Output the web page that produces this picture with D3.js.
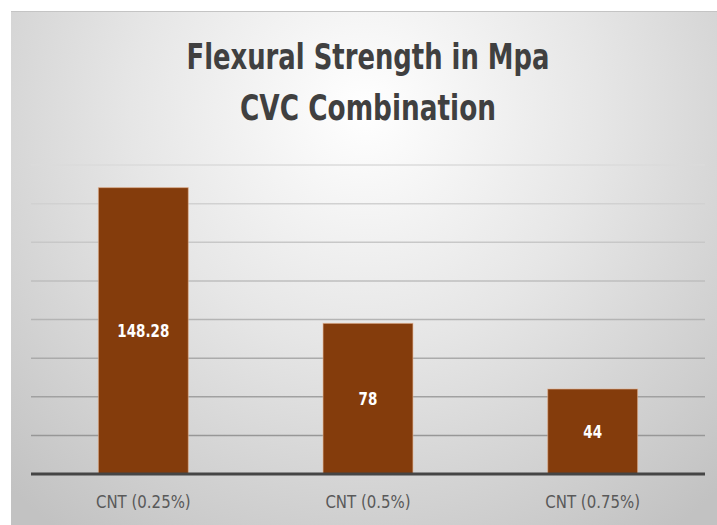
<!DOCTYPE html>
<html>
<head>
<meta charset="utf-8">
<script src="https://cdn.jsdelivr.net/npm/d3@7"></script>
<style>
  body { margin: 0; background: #ffffff; }
  svg { display: block; }
  .title { font-family: "DejaVu Sans", sans-serif; font-weight: bold; fill: #404040; }
  .catlabel { font-family: "DejaVu Sans", sans-serif; fill: #595959; }
  .vallabel { font-family: "DejaVu Sans", sans-serif; font-weight: bold; fill: #ffffff; }
</style>
</head>
<body>
<script>
// data
var categories = ["CNT (0.25%)", "CNT (0.5%)", "CNT (0.75%)"];
var values = [148.28, 78, 44];
var value_labels = ["148.28", "78", "44"];
var grid_ticks = [0, 20, 40, 60, 80, 100, 120, 140, 160];
var title_lines = ["Flexural Strength in Mpa", "CVC Combination"];

var width = 717, height = 525;

let svg = d3.select("body").append("svg")
    .attr("width", width)
    .attr("height", height);

let defs = svg.append("defs");

// background radial gradient
let bg = defs.append("radialGradient")
    .attr("id", "bggrad")
    .attr("gradientUnits", "userSpaceOnUse")
    .attr("cx", 365).attr("cy", 110)
    .attr("r", 520);
bg.append("stop").attr("offset", "0%").attr("stop-color", "#ffffff");
bg.append("stop").attr("offset", "45%").attr("stop-color", "#e6e6e6");
bg.append("stop").attr("offset", "100%").attr("stop-color", "#c2c2c2");

// gridline gradient, light at the top, darker at the bottom
let gg = defs.append("linearGradient")
    .attr("id", "gridgrad")
    .attr("gradientUnits", "userSpaceOnUse")
    .attr("x1", 0).attr("y1", 160)
    .attr("x2", 0).attr("y2", 440);
gg.append("stop").attr("offset", "0%").attr("stop-color", "#dcdcdc");
gg.append("stop").attr("offset", "100%").attr("stop-color", "#969696");

svg.append("rect")
    .attr("x", 11).attr("y", 11)
    .attr("width", width - 11).attr("height", height - 11)
    .attr("fill", "url(#bggrad)");

svg.append("line")
    .attr("x1", 11).attr("x2", width)
    .attr("y1", 11.5).attr("y2", 11.5)
    .attr("stroke", "#c4c4c4")
    .attr("stroke-width", 1);

// squeeze text horizontally so the wide fallback font looks like the narrow original
function squeeze(sel, factor) {
    sel.each(function() {
        let len = this.getComputedTextLength();
        d3.select(this)
            .attr("textLength", len * factor)
            .attr("lengthAdjust", "spacingAndGlyphs");
    });
}

// scales
var x = d3.scaleBand()
    .domain(categories)
    .range([31, 705])
    .paddingInner(0.6)
    .paddingOuter(0.3);

var y = d3.scaleLinear()
    .domain([0, 160])
    .range([474, 165]);

// gridlines
svg.append("g")
    .selectAll("line")
    .data(grid_ticks.filter(function(d) { return d > 0; }))
    .enter().append("line")
    .attr("x1", 31)
    .attr("x2", 705)
    .attr("y1", function(d) { return y(d); })
    .attr("y2", function(d) { return y(d); })
    .attr("stroke", "url(#gridgrad)")
    .attr("stroke-width", 1.5);

// bars
let bars = svg.selectAll(".bargroup")
    .data(values)
    .enter().append("g")
    .attr("class", "bargroup");

bars.append("rect")
    .attr("x", function(d, i) { return x(categories[i]); })
    .attr("y", function(d) { return y(d); })
    .attr("width", x.bandwidth())
    .attr("height", function(d) { return y(0) - y(d); })
    .attr("fill", "#843c0c")
    .attr("stroke", "#e2b08e")
    .attr("stroke-opacity", 0.6)
    .attr("stroke-width", 1);

let vals = bars.append("text")
    .attr("class", "vallabel")
    .text(function(d, i) { return value_labels[i]; })
    .attr("x", function(d, i) { return x(categories[i]) + x.bandwidth() / 2; })
    .attr("y", function(d) { return (y(d) + y(0)) / 2 + 6.5; })
    .attr("text-anchor", "middle")
    .attr("font-size", "17.5px");
squeeze(vals, 0.77);

// axis line
let xAxis = d3.axisBottom(x).tickSize(0).tickPadding(14);
let axisg = svg.append("g")
    .attr("transform", "translate(0," + y(0) + ")")
    .call(xAxis);
axisg.select(".domain")
    .attr("d", "M31,0H705")
    .attr("stroke", "#454545")
    .attr("stroke-width", 3);
let cats = axisg.selectAll("text")
    .attr("class", "catlabel")
    .attr("font-size", "17px")
    .attr("y", 34)
    .attr("dy", null)
    .attr("font-family", null)
    .attr("fill", null);
squeeze(cats, 0.88);

// title
svg.selectAll(".title")
    .data(title_lines)
    .enter().append("text")
    .attr("class", "title")
    .text(function(d) { return d; })
    .attr("x", 368)
    .attr("y", function(d, i) { return 69 + i * 51; })
    .attr("text-anchor", "middle")
    .attr("font-size", "36px")
    .attr("textLength", function(d, i) { return i == 0 ? 363 : 256; })
    .attr("lengthAdjust", "spacingAndGlyphs");
</script>
</body>
</html>
